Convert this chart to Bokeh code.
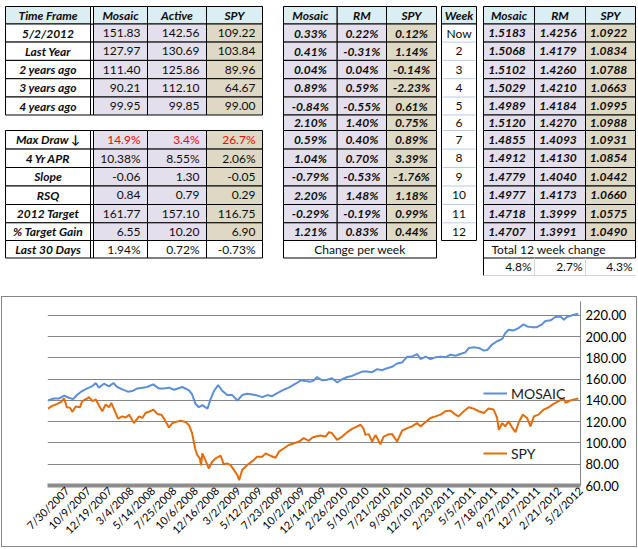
import math
from bokeh.plotting import figure
from bokeh.layouts import column
from bokeh.models import (ColumnDataSource, Range1d, FixedTicker, NumeralTickFormatter,
                          Legend, LegendItem, InlineStyleSheet)
from bokeh.core.properties import value
from bokeh.embed import file_html
from bokeh.resources import INLINE

# ---------------- table data ----------------
tf_header = ["Time Frame", "Mosaic", "Active", "SPY"]
tf_labels = ["5/2/2012", "Last Year", "2 years ago", "3 years ago", "4 years ago"]
tf_mosaic = [151.83, 127.97, 111.40, 90.21, 99.95]
tf_active = [142.56, 130.69, 125.86, 112.10, 99.85]
tf_spy = [109.22, 103.84, 89.96, 64.67, 99.00]

stat_labels = ["Max Draw \u2193", "4 Yr APR", "Slope", "RSQ", "2012 Target", "% Target Gain", "Last 30 Days"]
stat_mosaic = ["14.9%", "10.38%", "-0.06", "0.84", "161.77", "6.55", "1.94%"]
stat_active = ["3.4%", "8.55%", "1.30", "0.79", "157.10", "10.20", "0.72%"]
stat_spy = ["26.7%", "2.06%", "-0.05", "0.29", "116.75", "6.90", "-0.73%"]

chg_header = ["Mosaic", "RM", "SPY"]
week_labels = ["Now", "2", "3", "4", "5", "6", "7", "8", "9", "10", "11", "12"]
chg_mosaic = [0.33, 0.41, 0.04, 0.89, -0.84, 2.10, 0.59, 1.04, -0.79, 2.20, -0.29, 1.21]
chg_rm = [0.22, -0.31, 0.04, 0.59, -0.55, 1.40, 0.40, 0.70, -0.53, 1.48, -0.19, 0.83]
chg_spy = [0.12, 1.14, -0.14, -2.23, 0.61, 0.75, 0.89, 3.39, -1.76, 1.18, 0.99, 0.44]

ratio_mosaic = [1.5183, 1.5068, 1.5102, 1.5029, 1.4989, 1.5120, 1.4855, 1.4912, 1.4779, 1.4977, 1.4718, 1.4707]
ratio_rm = [1.4256, 1.4179, 1.4260, 1.4210, 1.4184, 1.4270, 1.4093, 1.4130, 1.4040, 1.4173, 1.3999, 1.3991]
ratio_spy = [1.0922, 1.0834, 1.0788, 1.0663, 1.0995, 1.0988, 1.0931, 1.0854, 1.0442, 1.0660, 1.0575, 1.0490]
total_change = [4.8, 2.7, 4.3]

# ---------------- chart data (trading-day index, 0 = 7/30/2007) ----------------
x_tick_labels = ["7/30/2007", "10/9/2007", "12/19/2007", "3/4/2008", "5/14/2008", "7/25/2008",
                 "10/6/2008", "12/16/2008", "3/2/2009", "5/12/2009", "7/23/2009", "10/2/2009",
                 "12/14/2009", "2/26/2010", "5/10/2010", "7/21/2010", "9/30/2010", "12/10/2010",
                 "2/23/2011", "5/5/2011", "7/18/2011", "9/27/2011", "12/7/2011", "2/21/2012", "5/2/2012"]
y_ticks = [60, 80, 100, 120, 140, 160, 180, 200, 220]

mosaic_day = [-45, -31, -19, -7, 4, 14, 24, 35, 47, 59, 67, 74, 86, 98, 108, 117, 129, 142, 152, 164,
              176, 187, 201, 214, 226, 238, 250, 269, 285, 292, 300, 308, 316, 328, 335, 343, 353, 363,
              374, 386, 398, 409, 421, 433, 444, 456, 468, 479, 491, 503, 518, 534, 546, 557, 569,
              577, 584, 596, 608, 619, 631, 643, 655, 666, 678, 690, 701, 713, 725, 736, 748, 760,
              771, 783, 795, 806, 818, 826, 838, 849, 861, 873, 884, 896, 908, 919, 931, 939, 950,
              962, 974, 982, 993, 1005, 1017, 1024, 1032, 1044, 1056, 1067, 1075, 1087, 1098, 1110,
              1118, 1130, 1141, 1153, 1161, 1168, 1180, 1195]
mosaic_val = [139.9, 141.8, 141.8, 144.4, 142.5, 141.2, 145.6, 148.8, 151.3, 153.5, 156.4, 152.0,
              155.7, 153.2, 156.4, 152.6, 150.4, 148.2, 148.8, 151.3, 152.0, 152.6, 155.1, 151.3,
              151.3, 152.0, 150.0, 152.6, 149.4, 145.6, 136.8, 133.6, 135.5, 132.3, 140.9, 148.8,
              154.5, 148.8, 145.0, 145.0, 139.9, 145.0, 146.2, 145.6, 144.7, 143.1, 145.0, 144.0,
              146.9, 149.4, 152.0, 155.7, 158.9, 158.2, 157.6, 158.9, 162.0, 158.9, 159.5, 160.8,
              157.0, 159.9, 162.0, 163.0, 165.2, 167.1, 167.1, 166.5, 169.4, 168.4, 170.3, 171.6,
              174.7, 175.7, 181.1, 181.1, 183.6, 178.9, 181.1, 178.9, 180.5, 181.1, 180.5, 183.0,
              182.0, 183.6, 185.2, 189.3, 189.9, 189.3, 186.8, 187.4, 192.5, 195.6, 197.8, 203.2,
              206.4, 205.8, 208.3, 211.5, 209.6, 208.9, 208.9, 211.5, 214.6, 215.3, 218.4, 219.0,
              215.9, 218.4, 220.0, 221.6]

spy_day = [-45, -35, -23, -14, -7, -1, 7, 12, 20, 30, 35, 47, 51, 59, 67, 74, 82, 90, 98, 103, 109,
           119, 129, 137, 145, 156, 168, 176, 183, 194, 201, 211, 220, 228, 238, 246, 254, 265, 277,
           285, 292, 299, 304, 310, 313, 316, 324, 331, 339, 347, 359, 366, 374, 382, 390, 398, 402,
           409, 421, 433, 444, 456, 464, 475, 487, 495, 507, 518, 530, 542, 553, 565, 573, 581, 592,
           604, 612, 619, 631, 643, 655, 666, 678, 686, 693, 697, 705, 713, 721, 732, 740, 752, 760,
           771, 783, 795, 806, 818, 826, 838, 849, 861, 873, 884, 896, 908, 915, 927, 939, 950, 962,
           974, 985, 997, 1005, 1009, 1017, 1024, 1032, 1040, 1048, 1056, 1065, 1075, 1083, 1091,
           1102, 1114, 1126, 1137, 1149, 1161, 1165, 1176, 1188, 1195]
spy_val = [132.3, 134.9, 136.8, 138.7, 141.8, 133.6, 133.0, 129.2, 134.2, 133.6, 139.3, 141.8, 143.1,
           139.3, 140.9, 135.5, 129.8, 136.1, 133.6, 137.7, 132.3, 122.8, 125.0, 124.0, 126.6, 118.7,
           125.0, 123.5, 128.2, 129.8, 131.4, 127.3, 126.6, 121.9, 114.6, 118.7, 119.7, 121.0, 119.7,
           116.5, 109.2, 95.0, 88.7, 85.5, 79.0, 90.2, 82.9, 76.0, 82.3, 85.5, 88.0, 79.8, 80.8, 79.2,
           74.5, 69.7, 64.9, 74.5, 79.2, 82.9, 87.0, 87.0, 90.2, 88.0, 86.1, 91.8, 95.0, 98.1, 99.7,
           101.3, 104.5, 102.0, 105.1, 106.0, 107.0, 106.0, 110.2, 109.2, 102.9, 106.0, 110.2, 113.3,
           115.6, 117.1, 113.3, 107.6, 108.3, 101.3, 107.6, 98.8, 106.0, 108.3, 108.3, 101.3, 111.5,
           114.0, 115.6, 118.7, 115.6, 119.7, 123.5, 125.0, 126.6, 129.8, 130.4, 126.6, 125.0, 129.8,
           133.6, 132.3, 129.8, 128.2, 132.3, 131.4, 123.5, 112.4, 118.7, 115.6, 120.3, 114.6, 110.2,
           119.7, 126.6, 123.5, 115.6, 125.0, 126.6, 131.4, 133.6, 136.8, 139.3, 141.8, 137.7, 139.9,
           141.2, 141.8]

# ---------------- styling / layout constants ----------------
HDR = "#DAEEF3"
LAV = "#E4DFEC"
TAN = "#DDD9C4"
WHITE = "#FFFFFF"
INK = "#0D0D0D"
FONT = "Lato"
FS = "12px"

# row edges (pixels of the sheet) and column edges
E = [6, 23.5, 41.6, 59.9, 78.2, 96.5, 114.5, 130, 148.6, 167, 185.5, 204, 222.3, 240, 257.5, 275]
T1 = [5, 90, 93, 147, 206, 262]
TM = [283, 336.7, 386, 436]
TW = [441, 476]
TR = [483, 534, 585, 635]

quads = dict(left=[], right=[], top=[], bottom=[], fill=[], line=[])
segs = dict(x0=[], y0=[], x1=[], y1=[], color=[])
texts = dict(x=[], y=[], text=[], color=[], align=[], style=[])


def cell(l, r, t, b, fill, line="#000000"):
    quads["left"].append(l); quads["right"].append(r)
    quads["top"].append(t); quads["bottom"].append(b)
    quads["fill"].append(fill); quads["line"].append(line)


def seg(x0, y0, x1, y1, color):
    segs["x0"].append(x0); segs["y0"].append(y0)
    segs["x1"].append(x1); segs["y1"].append(y1)
    segs["color"].append(color)


def txt(x, y, s, align="center", style="normal", color=INK):
    texts["x"].append(x); texts["y"].append(y); texts["text"].append(s)
    texts["color"].append(color); texts["align"].append(align); texts["style"].append(style)


def mid(a, b):
    return (a + b) / 2.0


# --- left table 1
for j, h in enumerate(tf_header):
    l, r = (T1[0], T1[1]) if j == 0 else (T1[j + 1], T1[j + 2])
    cell(l, r, E[0], E[1], HDR)
    txt(mid(l, r), mid(E[0], E[1]), h, style="bold italic")
for i in range(len(tf_labels)):
    t, b = E[i + 1], E[i + 2]
    cell(T1[0], T1[1], t, b, WHITE)
    cell(T1[1], T1[2], t, b, WHITE)
    cell(T1[2], T1[3], t, b, LAV)
    cell(T1[3], T1[4], t, b, LAV)
    cell(T1[4], T1[5], t, b, TAN)
    txt(mid(T1[0], T1[1]), mid(t, b), tf_labels[i], style="bold italic")
    txt(T1[3] - 7, mid(t, b), "%.2f" % tf_mosaic[i], align="right")
    txt(T1[4] - 7, mid(t, b), "%.2f" % tf_active[i], align="right")
    txt(T1[5] - 7, mid(t, b), "%.2f" % tf_spy[i], align="right")
cell(T1[1], T1[2], E[0], E[1], WHITE)

# --- left table 2
n_stat = len(stat_labels)
for i in range(n_stat):
    t, b = E[7 + i], E[8 + i]
    last = (i == n_stat - 1)
    cell(T1[0], T1[1], t, b, WHITE)
    cell(T1[1], T1[2], t, b, WHITE)
    cell(T1[2], T1[3], t, b, WHITE if last else LAV)
    cell(T1[3], T1[4], t, b, WHITE if last else LAV)
    cell(T1[4], T1[5], t, b, WHITE if last else TAN)
    col = "#FF0000" if i == 0 else INK
    txt(mid(T1[0], T1[1]), mid(t, b), stat_labels[i], style="bold italic")
    txt(T1[3] - 7, mid(t, b), stat_mosaic[i], align="right", color=col)
    txt(T1[4] - 7, mid(t, b), stat_active[i], align="right", color=col)
    txt(T1[5] - 7, mid(t, b), stat_spy[i], align="right", color=col)

# --- middle table (change per week)
for j, h in enumerate(chg_header):
    cell(TM[j], TM[j + 1], E[0], E[1], HDR)
    txt(mid(TM[j], TM[j + 1]), mid(E[0], E[1]), h, style="bold italic")
for i in range(len(week_labels)):
    t, b = E[i + 1], E[i + 2]
    for j, (vals, fill) in enumerate([(chg_mosaic, LAV), (chg_rm, LAV), (chg_spy, TAN)]):
        cell(TM[j], TM[j + 1], t, b, fill)
        txt(mid(TM[j], TM[j + 1]), mid(t, b), "%.2f%%" % vals[i], style="bold italic")
cell(TM[0], TM[3], E[13], E[14], WHITE)
txt(mid(TM[0], TM[3]), mid(E[13], E[14]), "Change per week")

# --- week column
cell(TW[0], TW[1], E[0], E[1], HDR)
txt(mid(TW[0], TW[1]), mid(E[0], E[1]), "Week", style="bold italic")
cell(TW[0], TW[1], E[1], E[13], WHITE)
for i in range(len(week_labels)):
    t, b = E[i + 1], E[i + 2]
    if i < len(week_labels) - 1:
        seg(TW[0] + 1, b, TW[1] - 1, b, "#B9CDE5")
    txt(mid(TW[0], TW[1]), mid(t, b), week_labels[i])

# --- right table (ratios)
for j, h in enumerate(chg_header):
    cell(TR[j], TR[j + 1], E[0], E[1], HDR)
    txt(mid(TR[j], TR[j + 1]), mid(E[0], E[1]), h, style="bold italic")
for i in range(len(week_labels)):
    t, b = E[i + 1], E[i + 2]
    for j, (vals, fill) in enumerate([(ratio_mosaic, LAV), (ratio_rm, LAV), (ratio_spy, TAN)]):
        cell(TR[j], TR[j + 1], t, b, fill)
        txt(mid(TR[j], TR[j + 1]) - 2, mid(t, b), "%.4f" % vals[i], style="bold italic")
cell(TR[0], TR[3], E[13], E[14], WHITE)
txt(TR[0] + 8, mid(E[13], E[14]), "Total 12 week change", align="left")
seg(TR[0], E[14], TR[0], E[15], "#000000")
for j in range(1, 3):
    seg(TR[j], E[14], TR[j], E[15], "#D4D4D4")
seg(TR[0], E[15], TR[3], E[15], "#D4D4D4")
for j, v in enumerate(total_change):
    txt(TR[j + 1] - 3, mid(E[14], E[15]), "%.1f%%" % v, align="right")

# ---------------- table figure ----------------
p1 = figure(width=638, height=293, x_range=Range1d(0, 638), y_range=Range1d(293, 0),
            output_backend="svg", toolbar_location=None, min_border=0)
p1.frame_align = False
p1.axis.visible = False
p1.grid.visible = False
p1.outline_line_color = None
p1.quad(left="left", right="right", top="top", bottom="bottom", fill_color="fill",
        line_color="line", line_width=1, source=ColumnDataSource(quads))
p1.segment(x0="x0", y0="y0", x1="x1", y1="y1", line_color="color", line_width=1,
           source=ColumnDataSource(segs))
p1.text(x="x", y="y", text="text", text_color="color", text_align="align",
        text_font_style="style", text_baseline="middle", text_font=value(FONT),
        text_font_size=value(FS), source=ColumnDataSource(texts))

# ---------------- line chart figure ----------------
p2 = figure(width=638, height=256, x_range=Range1d(-46, 1200), y_range=Range1d(60, 233),
            output_backend="svg", toolbar_location=None, y_axis_location="right",
            min_border_left=47, min_border_right=58, min_border_top=8, min_border_bottom=64)
p2.frame_align = False
p2.stylesheets = [InlineStyleSheet(css=(
    ":host { position: relative; }"
    ":host::after { content: ''; position: absolute; left: 1px; top: 3px; right: 1px; bottom: 2px;"
    " border: 1px solid #868686; pointer-events: none; z-index: 10; }"))]
p2.outline_line_color = None
p2.xgrid.grid_line_color = None
p2.ygrid.grid_line_color = "#868686"
p2.ygrid.ticker = FixedTicker(ticks=y_ticks)

yax = p2.yaxis[0]
yax.ticker = FixedTicker(ticks=y_ticks)
yax.formatter = NumeralTickFormatter(format="0.00")
yax.axis_line_color = "#868686"
yax.major_tick_line_color = None
yax.minor_tick_line_color = None
yax.major_tick_out = 0
yax.minor_tick_out = 0
yax.major_label_standoff = 5
yax.major_label_text_font = FONT
yax.major_label_text_font_size = "13px"
yax.major_label_text_color = "#000000"

x_ticks = list(range(0, 50 * len(x_tick_labels), 50))
xax = p2.xaxis[0]
xax.ticker = FixedTicker(ticks=x_ticks)
xax.major_label_overrides = {t: lab for t, lab in zip(x_ticks, x_tick_labels)}
xax.major_label_orientation = math.pi / 4
xax.axis_line_color = "#8C8C8C"
xax.axis_line_width = 4
xax.major_tick_line_color = None
xax.minor_tick_line_color = None
xax.major_tick_out = 0
xax.minor_tick_out = 0
xax.major_label_standoff = 3
xax.major_label_text_line_height = 0.9
xax.major_label_text_font = FONT
xax.major_label_text_font_size = "11px"
xax.major_label_text_color = "#000000"

src_m = ColumnDataSource(dict(x=mosaic_day, y=mosaic_val))
src_s = ColumnDataSource(dict(x=spy_day, y=spy_val))
r_m = p2.line("x", "y", source=src_m, line_color="#5B8FD6", line_width=2)
r_s = p2.line("x", "y", source=src_s, line_color="#E46C0A", line_width=2)

legend = Legend(items=[LegendItem(label="MOSAIC", renderers=[r_m]),
                       LegendItem(label="SPY", renderers=[r_s])],
                location=(436, 22), orientation="vertical", spacing=40,
                glyph_width=24, glyph_height=20, label_height=20, label_standoff=4,
                padding=0, margin=0, background_fill_alpha=0, border_line_color=None,
                label_text_font=FONT, label_text_font_size="14px", label_text_color="#1A1A1A")
p2.add_layout(legend)

layout = column(p1, p2, spacing=0)
open("out.html", "w").write(file_html(layout, INLINE))
